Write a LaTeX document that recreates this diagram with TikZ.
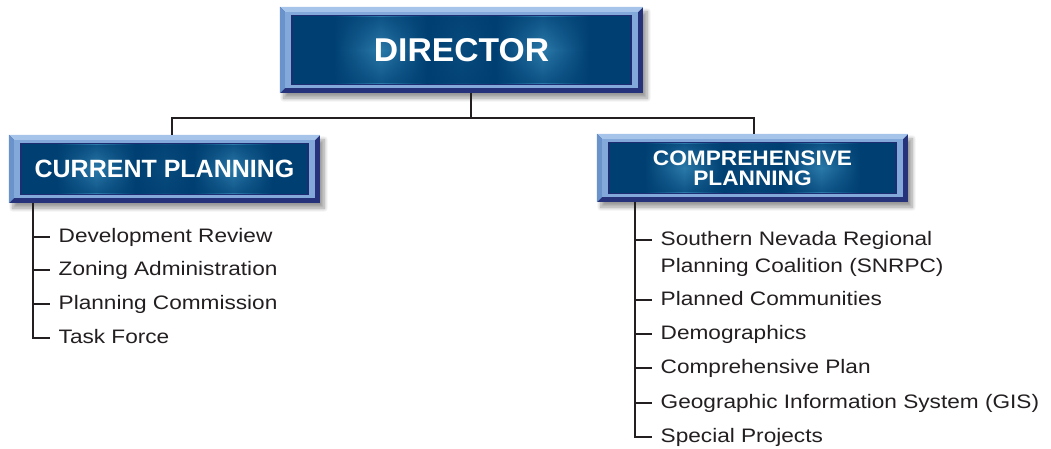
\documentclass[tikz,border=0pt]{standalone}
\usepackage{fontspec}
\setmainfont{Liberation Sans}
\newfontfamily\listfont{Liberation Sans}[FakeStretch=1.16]
\newfontfamily\dirfont{Liberation Sans}[FakeStretch=1.02]
\newfontfamily\compfont{Liberation Sans}[FakeStretch=1.08]
\usetikzlibrary{shadows.blur,fadings}
\pgfdeclarelayer{bg}
\pgfsetlayers{bg,main}
\definecolor{navy}{HTML}{003F72}
\definecolor{navymid}{HTML}{0A4C7E}
\definecolor{streak}{HTML}{2A7AAA}
\definecolor{frameblue}{HTML}{82A9D9}
\definecolor{bevtop}{HTML}{A6C4EA}
\definecolor{bevleft}{HTML}{6A93CB}
\definecolor{bevdark}{HTML}{26337A}
\definecolor{innerline}{HTML}{1E2C72}
\definecolor{ink}{HTML}{231F20}
\pgfdeclarehorizontalshading{plate}{100bp}{color(0bp)=(navy); color(25bp)=(navy); color(31bp)=(navy); color(38bp)=(streak); color(45bp)=(navy); color(50bp)=(navymid); color(55bp)=(navy); color(62bp)=(streak); color(69bp)=(navy); color(75bp)=(navy); color(100bp)=(navy)}
\tikzfading[name=vfade, top color=transparent!35, bottom color=transparent!35, middle color=transparent!100]
\newcommand\platebox[1]{%
  \begin{pgfonlayer}{bg}
    \fill[bevdark, blur shadow={shadow xshift=4pt, shadow yshift=-5pt, shadow blur radius=4pt, shadow blur steps=8, shadow opacity=40}] (#1.north west) rectangle (#1.south east);
    \fill[bevtop] (#1.north west) -- (#1.north east) -- ([shift={(-5,5)}]#1.north east) -- ([shift={(5,5)}]#1.north west) -- cycle;
    \fill[bevleft] (#1.north west) -- ([shift={(5,5)}]#1.north west) -- ([shift={(5,-5)}]#1.south west) -- (#1.south west) -- cycle;
    \fill[frameblue] ([shift={(5,5)}]#1.north west) rectangle ([shift={(-5,-5)}]#1.south east);
    \fill[innerline] ([shift={(11,8)}]#1.north west) rectangle ([shift={(-11,-8)}]#1.south east);
    \shade[shading=plate] ([shift={(13,10)}]#1.north west) rectangle ([shift={(-13,-10)}]#1.south east);
    \fill[navy, path fading=vfade] ([shift={(13,10)}]#1.north west) rectangle ([shift={(-13,-10)}]#1.south east);
  \end{pgfonlayer}}
\tikzset{
  box/.style={inner sep=0pt, text=white, align=center},
  conn/.style={draw=ink, line width=2.2pt},
  item/.style={inner sep=0pt, anchor=west, text=ink, text height=10pt, text depth=0pt, font=\listfont\fontsize{19.5}{22}\selectfont},
}
\begin{document}
\begin{tikzpicture}[x=1pt, y=-1pt]
\useasboundingbox (0,0) rectangle (1051,449);
% boxes
\node[box, minimum width=363, minimum height=86, font=\dirfont\fontsize{33}{36}\selectfont\bfseries] (dir) at (461.5,50) {DIRECTOR};
\node[box, minimum width=311, minimum height=68, font=\fontsize{25}{28}\selectfont\bfseries] (cp) at (164.5,169) {CURRENT PLANNING};
\node[box, minimum width=311, minimum height=68, font=\compfont\fontsize{21}{20}\selectfont\bfseries] (comp) at (752.5,168) {COMPREHENSIVE\\ PLANNING};
\platebox{dir}
\platebox{cp}
\platebox{comp}
% bus
\coordinate (bus) at (471,118);
\draw[conn] (dir.south -| bus) -- (bus);
\draw[conn] ([xshift=7.5]cp.north) |- (bus) -| ([xshift=1.5]comp.north);
% left list
\node[item] (l1) at (58.5,237) {Development Review};
\node[item] (l2) at (58.5,270) {Zoning Administration};
\node[item] (l3) at (58.5,304) {Planning Commission};
\node[item] (l4) at (58.5,338) {Task Force};
\coordinate (lb) at (33,203);
\draw[conn] (cp.south -| lb) |- ([xshift=-8.5pt]l4.west);
\draw[conn] (lb |- l1.west) -- ([xshift=-8.5pt]l1.west);
\draw[conn] (lb |- l2.west) -- ([xshift=-8.5pt]l2.west);
\draw[conn] (lb |- l3.west) -- ([xshift=-8.5pt]l3.west);
% right list
\node[item] (r1) at (660.5,240) {Southern Nevada Regional};
\node[item] (r1b) at (660.5,267) {Planning Coalition (SNRPC)};
\node[item] (r2) at (660.5,300) {Planned Communities};
\node[item] (r3) at (660.5,334) {Demographics};
\node[item] (r4) at (660.5,368) {Comprehensive Plan};
\node[item] (r5) at (660.5,403) {Geographic Information System (GIS)};
\node[item] (r6) at (660.5,437) {Special Projects};
\coordinate (rb) at (635,203);
\draw[conn] (comp.south -| rb) |- ([xshift=-8.5pt]r6.west);
\draw[conn] (rb |- r1.west) -- ([xshift=-8.5pt]r1.west);
\draw[conn] (rb |- r2.west) -- ([xshift=-8.5pt]r2.west);
\draw[conn] (rb |- r3.west) -- ([xshift=-8.5pt]r3.west);
\draw[conn] (rb |- r4.west) -- ([xshift=-8.5pt]r4.west);
\draw[conn] (rb |- r5.west) -- ([xshift=-8.5pt]r5.west);
\end{tikzpicture}
\end{document}
